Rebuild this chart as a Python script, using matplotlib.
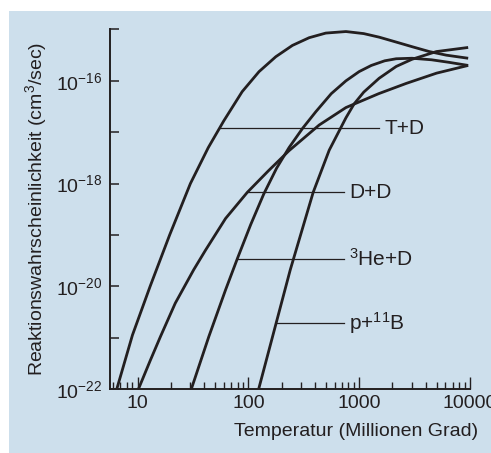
import numpy as np
import matplotlib
matplotlib.use('Agg')
import matplotlib.pyplot as plt
from matplotlib.ticker import FuncFormatter, FixedLocator, NullLocator, LogLocator
from matplotlib.patches import Rectangle

# Temperatur in Millionen Grad, log10 der Reaktionsrate (cm^3/sec)
td_T = [6.5, 9, 13, 19.5, 30, 43.5, 60, 88, 125, 177, 250, 354, 500, 760, 1100, 1520, 2200, 3060,
        4300, 6120, 9640]
td_log = [-22.0, -20.95, -20.0, -19.0, -18.0, -17.3, -16.78, -16.21, -15.82, -15.53, -15.31, -15.16,
          -15.07, -15.04, -15.08, -15.15, -15.25, -15.34, -15.43, -15.50, -15.56]

dd_T = [10.2, 13, 16.1, 21.9, 32.1, 41, 62.3, 98, 152, 233, 436, 760, 1500, 2660, 5000, 9640]
dd_log = [-22.0, -21.45, -20.98, -20.33, -19.68, -19.3, -18.68, -18.17, -17.75, -17.36, -16.86,
          -16.52, -16.25, -16.05, -15.85, -15.70]

dhe_T = [30.6, 44, 62.3, 80, 105, 138, 180, 233, 310, 407, 560, 760, 1000, 1288, 1700, 2157, 3000,
         4500, 6500, 9640]
dhe_log = [-22.0, -20.98, -20.07, -19.45, -18.8, -18.2, -17.7, -17.3, -16.92, -16.6, -16.25, -16.0,
           -15.82, -15.70, -15.61, -15.57, -15.56, -15.59, -15.64, -15.70]

pb_T = [124, 178.6, 239, 385, 537, 760, 900, 1100, 1515, 2160, 3000, 4980, 9640]
pb_log = [-22.0, -20.71, -19.68, -18.17, -17.35, -16.72, -16.45, -16.22, -15.95, -15.72, -15.58,
          -15.43, -15.35]

curves = [(td_T, td_log), (dd_T, dd_log), (dhe_T, dhe_log), (pb_T, pb_log)]

# Beschriftungen: Text, Start der Linie (T), Ende der Linie (T), Hoehe (log10)
labels = ['T+D', 'D+D', r'$\mathregular{^3}$He+D', r'p+$\mathregular{^{11}}$B']
lab_start = [55, 98, 79, 178.6]
lab_end = [1500, 725, 725, 725]
lab_log = [-16.92, -18.17, -19.47, -20.71]

bg = '#cddfec'
ink = '#231f20'

plt.rcParams['font.family'] = ['Liberation Sans', 'DejaVu Sans']
plt.rcParams['mathtext.fontset'] = 'custom'
plt.rcParams['mathtext.rm'] = 'Liberation Sans'
plt.rcParams['mathtext.it'] = 'Liberation Sans:italic'
plt.rcParams['mathtext.bf'] = 'Liberation Sans:bold'

fig = plt.figure(figsize=(4.91, 4.53), dpi=100)
fig.patches.append(Rectangle((9 / 491, 0), 1, 1 - 11 / 453, transform=fig.transFigure,
                             facecolor=bg, edgecolor='none', zorder=-10))
ax = fig.add_axes([0.225, 0.1413, 0.7321, 0.7936])
ax.set_facecolor('none')

for T, lg in curves:
    ax.plot(T, 10.0 ** np.array(lg), color=ink, lw=2.0, solid_capstyle='butt')

for txt, t0, t1, lg in zip(labels, lab_start, lab_end, lab_log):
    ax.plot([t0, t1], [10.0 ** lg, 10.0 ** lg], color=ink, lw=0.9)
    ax.annotate(txt, (t1, 10.0 ** lg), xytext=(4, 0), textcoords='offset points',
                va='center', ha='left', fontsize=15, color=ink)

ax.set_xscale('log')
ax.set_yscale('log')
ax.set_xlim(5.7, 10000)
ax.set_ylim(1e-22, 1e-15)

for s in ['top', 'right']:
    ax.spines[s].set_visible(False)
for s in ['left', 'bottom']:
    ax.spines[s].set_linewidth(1.4)
    ax.spines[s].set_color(ink)

ax.yaxis.set_major_locator(FixedLocator(10.0 ** np.arange(-22, -14)))
ax.yaxis.set_minor_locator(NullLocator())


def yfmt(v, p):
    e = int(round(np.log10(v)))
    if e % 2 == 0 and e < -15:
        return r'$\mathregular{10^{%d}}$' % e
    return ''


ax.yaxis.set_major_formatter(FuncFormatter(yfmt))
ax.xaxis.set_major_locator(LogLocator(base=10, numticks=10))
ax.xaxis.set_minor_locator(LogLocator(base=10, subs=np.arange(2, 10), numticks=10))
ax.xaxis.set_major_formatter(FuncFormatter(lambda v, p: '%d' % v))

ax.tick_params(axis='y', direction='in', length=6.5, width=1.1, labelsize=14, pad=6, colors=ink)
ax.tick_params(axis='x', which='major', direction='in', length=9, width=1.0, labelsize=14, pad=4, colors=ink)
ax.tick_params(axis='x', which='minor', direction='in', length=4.8, width=1.0, colors=ink)

fig.text(36 / 491, 1 - 209 / 453, r'Reaktionswahrscheinlichkeit (cm$\mathregular{^3}$/sec)',
         rotation=90, ha='center', va='center', fontsize=14, color=ink)
fig.text(356 / 491, 1 - 431.5 / 453, 'Temperatur (Millionen Grad)',
         ha='center', va='center', fontsize=14, color=ink)

fig.savefig('out.png', dpi=100, facecolor='white')
